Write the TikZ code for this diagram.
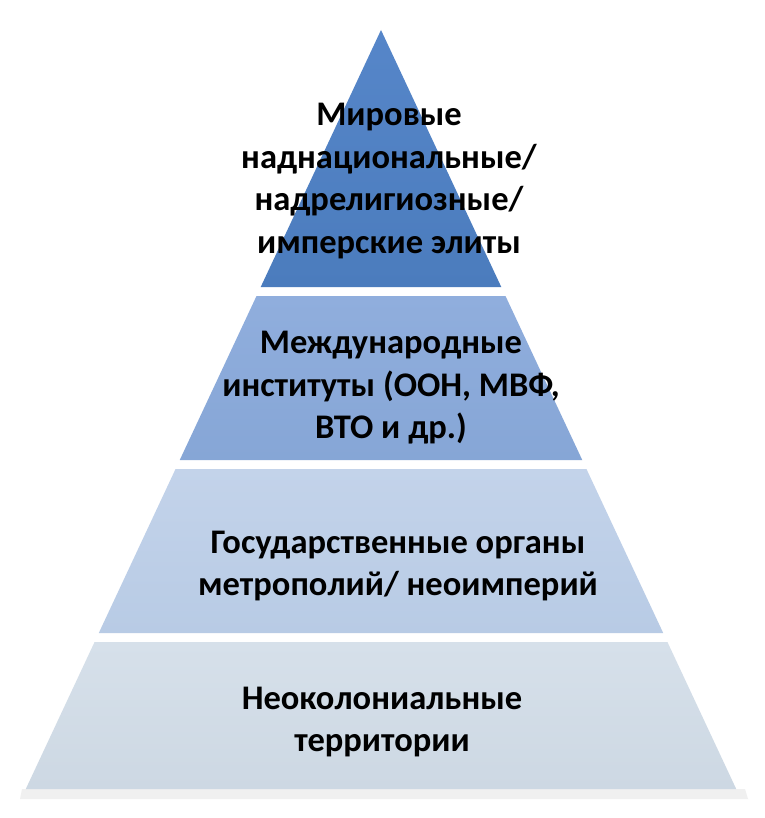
\documentclass[tikz,border=0pt]{standalone}
\usepackage{fontspec}
\setmainfont{Carlito}
\begin{document}
\begin{tikzpicture}[x=1pt,y=-1pt,
  lbl/.style={align=center,font=\bfseries\fontsize{34.5}{42.5}\selectfont,text=black,inner sep=0pt}]
\definecolor{ca1}{HTML}{5686C9}\definecolor{ca2}{HTML}{4B7CBD}
\definecolor{cb1}{HTML}{90AEDD}\definecolor{cb2}{HTML}{86A6D6}
\definecolor{cc1}{HTML}{C3D3EA}\definecolor{cc2}{HTML}{B8CBE5}
\definecolor{cd1}{HTML}{D6E0EA}\definecolor{cd2}{HTML}{CDD8E3}
\useasboundingbox (0,0) rectangle (764,818);
\fill[white] (0,0) rectangle (764,818);
% base shadow
\fill[black!6] (22,789) -- (745,789) -- (748,799) -- (20,799) -- cycle;
% layers: half-width = 0.468*(y-30), centre x = 381
\shade[top color=ca1,bottom color=ca2] (381,30) -- ({381+0.468*257},287) -- ({381-0.468*257},287) -- cycle;
\shade[top color=cb1,bottom color=cb2] ({381-0.468*266},296) -- ({381+0.468*266},296) -- ({381+0.468*430},460) -- ({381-0.468*430},460) -- cycle;
\shade[top color=cc1,bottom color=cc2] ({381-0.468*439},469) -- ({381+0.468*439},469) -- ({381+0.468*603},633) -- ({381-0.468*603},633) -- cycle;
\shade[top color=cd1,bottom color=cd2] ({381-0.468*612},642) -- ({381+0.468*612},642) -- ({381+0.468*759},789) -- ({381-0.468*759},789) -- cycle;
\node[lbl] (t1) at (389,181) {Мировые\\наднациональные/\\надрелигиозные/\\имперские элиты};
\node[lbl] (t2) at (391,388) {Международные\\институты (ООН, МВФ,\\ВТО и др.)};
\node[lbl] (t3) at (398,566) {Государственные органы\\метрополий/ неоимперий};
\node[lbl] (t4) at (382,722) {Неоколониальные\\территории};
\end{tikzpicture}
\end{document}
